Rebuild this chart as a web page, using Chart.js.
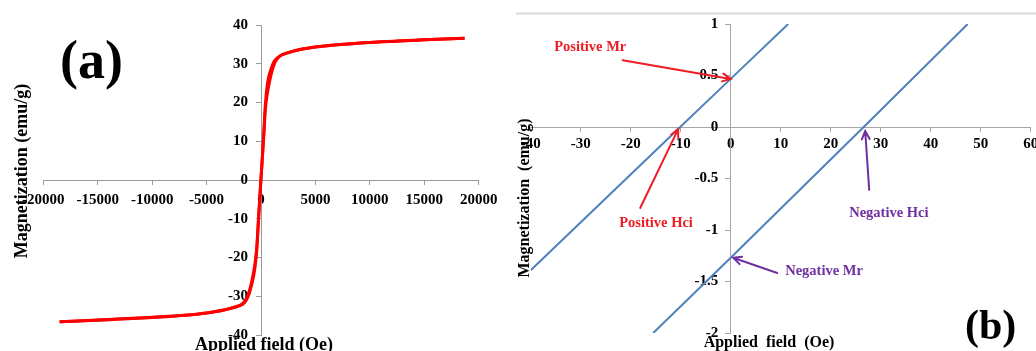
<!DOCTYPE html>
<html>
<head>
<meta charset="utf-8">
<script src="https://cdn.jsdelivr.net/npm/chart.js@4/dist/chart.umd.min.js"></script>
<style>
  html, body { margin: 0; padding: 0; background: #fff; overflow: hidden; }
  #wrap { position: relative; width: 1036px; height: 351px; }
  #boxA { position: absolute; left: 0; top: 0; width: 500px; height: 351px; }
  #boxB { position: absolute; left: 500px; top: 0; width: 536px; height: 351px; filter: blur(0.5px); }
  canvas { display: block; }
</style>
</head>
<body>
<div id="wrap">
  <div id="boxA"><canvas id="chartA" width="500" height="351"></canvas></div>
  <div id="boxB"><canvas id="chartB" width="536" height="351"></canvas></div>
</div>
<script>
// ---- (a) full hysteresis loop, field in Oe, magnetization in emu/g ----
const loopUpField = [-18500, -15000, -10000, -7000, -5000, -3000, -2000, -1500, -1200, -900, -600, -400, -250, -100, 0, 100, 250, 400, 600, 800, 1000, 1300, 1700, 2500, 3500, 5000, 7000, 10000, 13000, 15000, 18700];
const loopUpMag   = [-36.6, -36.1, -35.4, -34.9, -34.3, -33.3, -32.5, -31.6, -30.2, -27.5, -23.5, -18.5, -11.5, -4.2, 0.4, 4.8, 11.0, 18.2, 22.6, 25.6, 28.0, 30.4, 31.9, 32.8, 33.6, 34.3, 34.9, 35.5, 35.9, 36.2, 36.6];
const loopDownField = [18700, 15000, 10000, 7000, 5000, 3000, 2000, 1500, 1200, 900, 600, 400, 250, 100, 0, -100, -250, -400, -600, -800, -1000, -1300, -1700, -2500, -3500, -5000, -7000, -10000, -13000, -15000, -18500];
const loopDownMag   = [36.6, 36.2, 35.5, 34.9, 34.3, 33.3, 32.4, 31.5, 30.6, 28.5, 25.0, 19.5, 12.0, 4.6, 0.5, -4.0, -10.8, -17.8, -22.4, -25.5, -27.9, -30.4, -31.9, -32.8, -33.6, -34.3, -34.9, -35.5, -35.9, -36.2, -36.6];
const fieldTicksA = { min: -20000, max: 20000, step: 5000 };
const magTicksA   = { min: -40, max: 40, step: 10 };

// ---- (b) low-field detail of both branches ----
const upperField = [-40, -10.1, 0, 11.5];
const upperMag   = [-1.39, 0, 0.467, 1];
const lowerField = [-15.5, 0, 26.6, 47.4];
const lowerMag   = [-2, -1.27, 0, 1];
const fieldTicksB = { min: -40, max: 60, step: 10 };
const magTicksB   = { min: -2, max: 1, step: 0.5 };

const SERIF = '"Liberation Serif", "Times New Roman", serif';
const pts = (xs, ys) => xs.map((x, i) => ({ x: x, y: ys[i] }));

// Axes that sit inside the plot take no layout room.
function flatten(scale) {
  if (scale.isHorizontal()) scale.height = 0; else scale.width = 0;
  scale.paddingLeft = scale.paddingRight = scale.paddingTop = scale.paddingBottom = 0;
}
const plain = v => String(v);

// Titles and panel letters drawn over each plot.
function textPlugin(items) {
  return {
    id: 'panelText',
    afterDraw(chart) {
      const ctx = chart.ctx;
      items.forEach(t => {
        ctx.save();
        ctx.font = t.font;
        ctx.fillStyle = t.color || '#000';
        ctx.textAlign = t.align || 'center';
        ctx.textBaseline = t.baseline || 'middle';
        ctx.translate(t.x, t.y);
        if (t.rotate) ctx.rotate(t.rotate);
        ctx.fillText(t.text, 0, 0);
        ctx.restore();
      });
    }
  };
}

new Chart(document.getElementById('chartA'), {
  type: 'scatter',
  data: {
    datasets: [
      { data: pts(loopUpField, loopUpMag), showLine: true, borderColor: '#ff0000', borderWidth: 3, pointRadius: 0, cubicInterpolationMode: 'monotone' },
      { data: pts(loopDownField, loopDownMag), showLine: true, borderColor: '#ff0000', borderWidth: 3, pointRadius: 0, cubicInterpolationMode: 'monotone' }
    ]
  },
  options: {
    responsive: false,
    animation: false,
    layout: { autoPadding: false, padding: { left: 43.3, right: 21.3, top: 25, bottom: 16 } },
    plugins: { legend: { display: false }, tooltip: { enabled: false } },
    scales: {
      x: {
        type: 'linear', position: 'center', min: fieldTicksA.min, max: fieldTicksA.max,
        ticks: { stepSize: fieldTicksA.step, callback: plain, autoSkip: false, maxRotation: 0, padding: 7, color: '#000',
                 font: { family: SERIF, size: 15, weight: 'bold' } },
        grid: { drawOnChartArea: false, drawTicks: true, tickLength: 4, color: '#9a9a9a' },
        border: { color: '#9a9a9a', width: 1 },
        afterFit: flatten
      },
      y: {
        type: 'linear', position: 'center', min: magTicksA.min, max: magTicksA.max,
        ticks: { stepSize: magTicksA.step, callback: plain, autoSkip: false, padding: 8, color: '#000',
                 font: { family: SERIF, size: 15, weight: 'bold' } },
        grid: { drawOnChartArea: false, drawTicks: true, tickLength: 5, color: '#9a9a9a' },
        border: { color: '#9a9a9a', width: 1 },
        afterFit: flatten
      }
    }
  },
  plugins: [textPlugin([
    { text: '(a)', x: 60, y: 64, align: 'left', font: 'bold 54px ' + SERIF },
    { text: 'Magnetization (emu/g)', x: 22, y: 171, rotate: -Math.PI / 2, font: 'bold 18px ' + SERIF },
    { text: 'Applied field (Oe)', x: 264, y: 350, baseline: 'alphabetic', font: 'bold 18px ' + SERIF }
  ])]
});

// Callouts on panel (b): label position, arrow tail and arrow tip in data units.
const callouts = [
  { text: 'Positive Mr',  color: '#ee1c25', at: [-35.3, 0.777],  tail: [-21.6, 0.648],  tip: [0, 0.467] },
  { text: 'Positive Hci', color: '#ee1c25', at: [-22.3, -0.932], tail: [-18.1, -0.786], tip: [-10.5, -0.02] },
  { text: 'Negative Hci', color: '#7030a0', at: [23.7, -0.835],  tail: [27.7, -0.61],   tip: [26.9, -0.04] },
  { text: 'Negative Mr',  color: '#7030a0', at: [10.9, -1.398],  tail: [9.3, -1.417],   tip: [0.5, -1.27] }
];

const calloutPlugin = {
  id: 'callouts',
  afterDraw(chart) {
    const ctx = chart.ctx, sx = chart.scales.x, sy = chart.scales.y;
    callouts.forEach(c => {
      const x0 = sx.getPixelForValue(c.tail[0]), y0 = sy.getPixelForValue(c.tail[1]);
      const x1 = sx.getPixelForValue(c.tip[0]),  y1 = sy.getPixelForValue(c.tip[1]);
      const a = Math.atan2(y1 - y0, x1 - x0), h = 9, spread = 0.45;
      ctx.save();
      ctx.strokeStyle = c.color;
      ctx.lineWidth = 2;
      ctx.lineCap = 'round';
      ctx.beginPath();
      ctx.moveTo(x0, y0); ctx.lineTo(x1, y1);
      ctx.moveTo(x1 - h * Math.cos(a - spread), y1 - h * Math.sin(a - spread));
      ctx.lineTo(x1, y1);
      ctx.lineTo(x1 - h * Math.cos(a + spread), y1 - h * Math.sin(a + spread));
      ctx.stroke();
      ctx.fillStyle = c.color;
      ctx.font = 'bold 14.5px ' + SERIF;
      ctx.textAlign = 'left';
      ctx.textBaseline = 'middle';
      ctx.fillText(c.text, sx.getPixelForValue(c.at[0]), sy.getPixelForValue(c.at[1]));
      ctx.restore();
    });
    // frame rule along the top of the panel
    ctx.save();
    ctx.strokeStyle = '#d9d9d9';
    ctx.lineWidth = 2;
    ctx.beginPath(); ctx.moveTo(16, 13.5); ctx.lineTo(chart.width, 13.5); ctx.stroke();
    ctx.restore();
  }
};

new Chart(document.getElementById('chartB'), {
  type: 'scatter',
  data: {
    datasets: [
      { data: pts(upperField, upperMag), showLine: true, borderColor: '#4f81bd', borderWidth: 2, pointRadius: 0, yAxisID: 'y' },
      { data: pts(lowerField, lowerMag), showLine: true, borderColor: '#4f81bd', borderWidth: 2, pointRadius: 0, yAxisID: 'y' }
    ]
  },
  options: {
    responsive: false,
    animation: false,
    layout: { autoPadding: false, padding: { left: 30.7, right: 5.3, top: 24, bottom: 18 } },
    plugins: { legend: { display: false }, tooltip: { enabled: false } },
    scales: {
      x: {
        type: 'linear', position: { y: 0 }, min: fieldTicksB.min, max: fieldTicksB.max,
        ticks: { stepSize: fieldTicksB.step, callback: plain, autoSkip: false, maxRotation: 0, padding: 4, color: '#000',
                 font: { family: SERIF, size: 15, weight: 'bold' } },
        grid: { drawOnChartArea: false, drawTicks: true, tickLength: 4, color: '#a6a6a6' },
        border: { color: '#a6a6a6', width: 1 },
        afterFit: flatten
      },
      y: {
        type: 'linear', position: { x: 0 }, min: magTicksB.min, max: magTicksB.max,
        ticks: { stepSize: magTicksB.step, display: false },
        grid: { drawOnChartArea: false, drawTicks: true, tickLength: 5, color: '#a6a6a6' },
        border: { color: '#a6a6a6', width: 1 },
        afterFit: flatten
      },
      yLabels: {
        type: 'linear', position: { x: -2.5 }, min: magTicksB.min, max: magTicksB.max,
        ticks: { stepSize: magTicksB.step, callback: plain, autoSkip: false, color: '#000',
                 font: { family: SERIF, size: 15, weight: 'bold' } },
        grid: { display: false },
        border: { display: false },
        afterFit: flatten
      }
    }
  },
  plugins: [calloutPlugin, textPlugin([
    { text: '(b)', x: 465, y: 328, align: 'left', font: 'bold 42px ' + SERIF },
    { text: 'Magnetization  (emu/g)', x: 25, y: 198, rotate: -Math.PI / 2, font: 'bold 16px ' + SERIF },
    { text: 'Applied  field  (Oe)', x: 269, y: 347, baseline: 'alphabetic', font: 'bold 16px ' + SERIF }
  ])]
});
</script>
</body>
</html>
